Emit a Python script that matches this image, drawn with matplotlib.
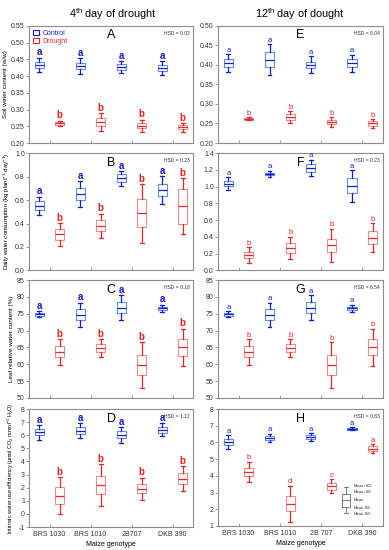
import matplotlib
matplotlib.use("Agg")
import matplotlib.pyplot as plt
from matplotlib.patches import Patch
from matplotlib.ticker import FormatStrFormatter

plt.rcParams["font.family"] = ["Liberation Sans", "DejaVu Sans"]
plt.rcParams["mathtext.default"] = "regular"

# ---- data: mean, SE (box half-height), SD (whisker half-length) ----
genotypes_left = ["BRS 1030", "BRS 1010", "2B707", "DKB 390"]
genotypes_right = ["BRS 1030", "BRS 1010", "2B 707", "DKB 390"]

# A - soil water content, 4th day
A_ctrl_mean = [0.433, 0.430, 0.426, 0.424]
A_ctrl_se = [0.010, 0.010, 0.009, 0.010]
A_ctrl_sd = [0.022, 0.023, 0.018, 0.021]
A_dro_mean = [0.259, 0.262, 0.252, 0.247]
A_dro_se = [0.004, 0.012, 0.008, 0.006]
A_dro_sd = [0.007, 0.027, 0.018, 0.013]

# E - soil water content, 12th day
E_ctrl_mean = [0.404, 0.413, 0.400, 0.404]
E_ctrl_se = [0.010, 0.019, 0.008, 0.010]
E_ctrl_sd = [0.023, 0.040, 0.022, 0.022]
E_dro_mean = [0.262, 0.266, 0.254, 0.250]
E_dro_se = [0.002, 0.007, 0.006, 0.006]
E_dro_sd = [0.004, 0.015, 0.012, 0.011]

# B - daily water consumption, 4th day
B_ctrl_mean = [0.550, 0.650, 0.786, 0.687]
B_ctrl_se = [0.038, 0.053, 0.034, 0.050]
B_ctrl_sd = [0.078, 0.113, 0.062, 0.117]
B_dro_mean = [0.308, 0.379, 0.487, 0.547]
B_dro_se = [0.047, 0.047, 0.120, 0.150]
B_dro_sd = [0.097, 0.105, 0.250, 0.240]

# F - daily water consumption, 12th day
F_ctrl_mean = [1.035, 1.150, 1.225, 1.010]
F_ctrl_se = [0.030, 0.015, 0.045, 0.090]
F_ctrl_sd = [0.080, 0.040, 0.100, 0.190]
F_dro_mean = [0.184, 0.268, 0.300, 0.390]
F_dro_se = [0.035, 0.055, 0.080, 0.080]
F_dro_sd = [0.090, 0.135, 0.200, 0.175]

# C - leaf relative water content, 4th day
C_ctrl_mean = [74.8, 74.7, 76.8, 76.6]
C_ctrl_se = [0.4, 1.7, 1.6, 0.5]
C_ctrl_sd = [0.9, 3.6, 3.7, 1.1]
C_dro_mean = [63.7, 64.8, 59.8, 65.0]
C_dro_se = [1.6, 1.2, 3.0, 2.4]
C_dro_sd = [3.8, 2.7, 6.7, 5.5]

# G - leaf relative water content, 12th day
G_ctrl_mean = [74.8, 74.7, 76.8, 76.6]
G_ctrl_se = [0.4, 1.7, 1.6, 0.5]
G_ctrl_sd = [0.9, 3.6, 3.7, 1.1]
G_dro_mean = [63.7, 64.8, 59.8, 65.1]
G_dro_se = [1.6, 1.2, 3.0, 2.4]
G_dro_sd = [3.8, 2.7, 6.7, 5.5]

# D - intrinsic water use efficiency, 4th day
D_ctrl_mean = [6.22, 6.35, 6.03, 6.42]
D_ctrl_se = [0.23, 0.25, 0.27, 0.22]
D_ctrl_sd = [0.55, 0.57, 0.60, 0.48]
D_dro_mean = [1.40, 2.20, 1.92, 2.68]
D_dro_se = [0.63, 0.70, 0.36, 0.42]
D_dro_sd = [1.38, 1.57, 0.83, 0.94]

# H - intrinsic water use efficiency, 12th day
H_ctrl_mean = [6.02, 6.27, 6.33, 6.81]
H_ctrl_se = [0.16, 0.11, 0.12, 0.06]
H_ctrl_sd = [0.40, 0.25, 0.23, 0.09]
H_dro_mean = [4.23, 2.34, 3.38, 5.62]
H_dro_se = [0.26, 0.47, 0.20, 0.14]
H_dro_sd = [0.62, 1.08, 0.42, 0.26]

letters_ctrl = ["a", "a", "a", "a"]
letters_dro = ["b", "b", "b", "b"]
H_letters_dro = ["b", "d", "c", "a"]

hsd_values = {"A": "0.02", "B": "0.23", "C": "0.18", "D": "1.12",
              "E": "0.04", "F": "0.23", "G": "6.54", "H": "0.83"}

ylabels = [
    "Soil water content (w/w)",
    "Daily water consumption (kg plant$^{-1}$ day$^{-1}$)",
    "Leaf relative water content (%)",
    "Intrinsic water use efficiency (\u00b5mol CO$_2$ mmol$^{-1}$ H$_2$O)",
]

# ---- style ----
CTRL_BOX = "#5a96e0"
CTRL_LINE = "#1a1ad0"
DRO_BOX = "#f08c8c"
DRO_LINE = "#e82828"
SPINE = "#8c8c8c"


def stats(mean, se, sd):
    return [dict(med=m, q1=m - e, q3=m + e, whislo=m - d, whishi=m + d, fliers=[])
            for m, e, d in zip(mean, se, sd)]


def draw_group(ax, pos, mean, se, sd, box_c, line_c):
    ax.bxp(stats(mean, se, sd), positions=pos, widths=0.22, capwidths=0.09,
           showfliers=False, manage_ticks=False,
           boxprops=dict(color=box_c, linewidth=0.8),
           medianprops=dict(color=line_c, linewidth=0.9),
           whiskerprops=dict(color=line_c, linewidth=0.9),
           capprops=dict(color=line_c, linewidth=0.9))


def letters(ax, pos, mean, sd, labs, color, big):
    for x, m, d, s in zip(pos, mean, sd, labs):
        ax.annotate(s, (x, m + d), xytext=(0, 0.3), textcoords="offset points",
                    ha="center", va="bottom", color=color,
                    fontsize=7 if big else 5.5,
                    fontweight="bold" if big else "normal")


def panel(ax, tag, cm, cs, cd, dm, ds, dd, ylim, yticks, fmt, dl, big):
    xs = [1, 2, 3, 4]
    pc = [x - 0.25 for x in xs]
    pd_ = [x + 0.25 for x in xs]
    draw_group(ax, pc, cm, cs, cd, CTRL_BOX, CTRL_LINE)
    draw_group(ax, pd_, dm, ds, dd, DRO_BOX, DRO_LINE)
    letters(ax, pc, cm, cd, letters_ctrl, "#1a1ad0", big)
    letters(ax, pd_, dm, dd, dl, "#ee2020", big)
    ax.set_xlim(0.5, 4.5)
    ax.set_ylim(*ylim)
    ax.set_yticks(yticks)
    ax.yaxis.set_major_formatter(FormatStrFormatter(fmt))
    ax.set_xticks(xs)
    ax.set_xticklabels([])
    ax.tick_params(axis="x", direction="in", length=2, width=0.6, color=SPINE)
    ax.tick_params(axis="y", direction="out", length=2, width=0.6, color=SPINE,
                   labelsize=5, labelcolor="#333333", pad=1)
    for sp in ax.spines.values():
        sp.set_color(SPINE)
        sp.set_linewidth(0.8)
    ax.text(0.5, 0.97, tag, transform=ax.transAxes, ha="center", va="top",
            fontsize=9)
    ax.text(0.98, 0.96, "HSD = " + hsd_values[tag], transform=ax.transAxes,
            ha="right", va="top", fontsize=3.6, color="#333333")


fig = plt.figure(figsize=(3.89, 5.5), dpi=100)

lx, lw = 0.0746, 0.4216
rx, rw = 0.5604, 0.424
rows = [(0.740, 0.213), (0.5084, 0.213), (0.2764, 0.2145), (0.0418, 0.2145)]

axA = fig.add_axes([lx, rows[0][0], lw, rows[0][1]])
axB = fig.add_axes([lx, rows[1][0], lw, rows[1][1]])
axC = fig.add_axes([lx, rows[2][0], lw, rows[2][1]])
axD = fig.add_axes([lx, rows[3][0], lw, rows[3][1]])
axE = fig.add_axes([rx, rows[0][0], rw, rows[0][1]])
axF = fig.add_axes([rx, rows[1][0], rw, rows[1][1]])
axG = fig.add_axes([rx, rows[2][0], rw, rows[2][1]])
axH = fig.add_axes([rx, rows[3][0] + 0.002, rw, rows[3][1] - 0.002])

panel(axA, "A", A_ctrl_mean, A_ctrl_se, A_ctrl_sd, A_dro_mean, A_dro_se, A_dro_sd,
      (0.20, 0.55), [0.20, 0.25, 0.30, 0.35, 0.40, 0.45, 0.50, 0.55], "%.2f", letters_dro, True)
panel(axB, "B", B_ctrl_mean, B_ctrl_se, B_ctrl_sd, B_dro_mean, B_dro_se, B_dro_sd,
      (0.0, 1.0), [0.0, 0.2, 0.4, 0.6, 0.8, 1.0], "%.1f", letters_dro, True)
panel(axC, "C", C_ctrl_mean, C_ctrl_se, C_ctrl_sd, C_dro_mean, C_dro_se, C_dro_sd,
      (50, 85), [50, 55, 60, 65, 70, 75, 80, 85], "%d", letters_dro, True)
panel(axD, "D", D_ctrl_mean, D_ctrl_se, D_ctrl_sd, D_dro_mean, D_dro_se, D_dro_sd,
      (-1, 8), list(range(-1, 9)), "%d", letters_dro, True)
panel(axE, "E", E_ctrl_mean, E_ctrl_se, E_ctrl_sd, E_dro_mean, E_dro_se, E_dro_sd,
      (0.20, 0.50), [0.20, 0.25, 0.30, 0.35, 0.40, 0.45, 0.50], "%.2f", letters_dro, False)
panel(axF, "F", F_ctrl_mean, F_ctrl_se, F_ctrl_sd, F_dro_mean, F_dro_se, F_dro_sd,
      (0.0, 1.4), [0.0, 0.2, 0.4, 0.6, 0.8, 1.0, 1.2, 1.4], "%.1f", letters_dro, False)
panel(axG, "G", G_ctrl_mean, G_ctrl_se, G_ctrl_sd, G_dro_mean, G_dro_se, G_dro_sd,
      (50, 85), [50, 55, 60, 65, 70, 75, 80, 85], "%d", letters_dro, False)
panel(axH, "H", H_ctrl_mean, H_ctrl_se, H_ctrl_sd, H_dro_mean, H_dro_se, H_dro_sd,
      (1, 8), list(range(1, 9)), "%d", H_letters_dro, False)

for ax, ylab, fs in zip([axA, axB, axC, axD], ylabels, [4.6, 4.4, 4.6, 4.0]):
    ax.set_ylabel(ylab, fontsize=fs, labelpad=2)

for ax, labs in [(axD, genotypes_left), (axH, genotypes_right)]:
    ax.set_xticklabels(labs, fontsize=5, color="#333333")
    ax.tick_params(axis="x", pad=3)
    ax.set_xlabel("Maize genotype", fontsize=5, labelpad=2)

# legend in A
handles = [Patch(facecolor="none", edgecolor=CTRL_LINE, linewidth=0.8, label="Control"),
           Patch(facecolor="none", edgecolor=DRO_LINE, linewidth=0.8, label="Drought")]
leg = axA.legend(handles=handles, loc="upper left", fontsize=5, frameon=False,
                 handlelength=0.9, handleheight=0.8, handletextpad=0.4,
                 borderaxespad=0.2, labelspacing=0.15)
for t, c in zip(leg.get_texts(), ["#1a1ad0", DRO_LINE]):
    t.set_color(c)

# box key in H
key = axH.inset_axes([0.74, 0.08, 0.25, 0.28])
key.bxp([dict(med=0.5, q1=0.3, q3=0.7, whislo=0.1, whishi=0.9, fliers=[])],
        positions=[0], widths=0.5, capwidths=0.25, showfliers=False,
        boxprops=dict(color="#666666", linewidth=0.6),
        medianprops=dict(color="#666666", linewidth=0.6),
        whiskerprops=dict(color="#666666", linewidth=0.6),
        capprops=dict(color="#666666", linewidth=0.6))
key.set_xlim(-0.4, 2.2)
key.set_ylim(0, 1)
key.axis("off")
for yv, s in [(0.93, "Mean+SD"), (0.76, "Mean+SE"), (0.5, "Mean"),
              (0.25, "Mean-SE"), (0.08, "Mean-SD")]:
    key.text(0.45, yv, s, fontsize=3, va="center", ha="left", color="#333333")

fig.text(0.29, 0.974, "4$^{th}$ day of drought", ha="center", va="center", fontsize=7.8)
fig.text(0.77, 0.974, "12$^{th}$ day of dought", ha="center", va="center", fontsize=7.8)

fig.savefig("out.png", dpi=100)
